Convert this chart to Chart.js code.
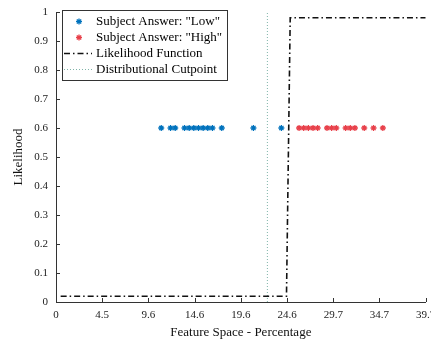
<!DOCTYPE html>
<html>
<head>
<meta charset="utf-8">
<script src="https://cdn.jsdelivr.net/npm/chart.js@4.4.1/dist/chart.umd.min.js"></script>
<style>
  html, body { margin: 0; padding: 0; background: #fff; }
  #wrap { width: 431px; height: 341px; }
</style>
</head>
<body>
<div id="wrap"><canvas id="chart" width="431" height="341"></canvas></div>
<script>
// values
const lowX = [11.3, 12.3, 12.8, 13.8, 14.3, 14.8, 15.3, 15.8, 16.3, 16.8, 17.8, 21.2, 24.2];
const lowY = [0.6, 0.6, 0.6, 0.6, 0.6, 0.6, 0.6, 0.6, 0.6, 0.6, 0.6, 0.6, 0.6];
const highX = [26.1, 26.6, 27.1, 27.6, 28.1, 29.1, 29.6, 30.1, 31.1, 31.6, 32.1, 33.1, 34.1, 35.1];
const highY = [0.6, 0.6, 0.6, 0.6, 0.6, 0.6, 0.6, 0.6, 0.6, 0.6, 0.6, 0.6, 0.6, 0.6];
const likeX = [0.5, 24.75, 25.15, 39.7];
const likeY = [0.02, 0.02, 0.98, 0.98];
const cutX = [22.7, 22.7];
const cutY = [0, 1];
const xTickLabels = ["0", "4.5", "9.6", "14.6", "19.6", "24.6", "29.7", "34.7", "39.7"];
const xMax = 39.7;

const serif = "'Liberation Serif', 'Times New Roman', serif";
const toPoints = (xs, ys) => xs.map((x, i) => ({ x: x, y: ys[i] }));

// ticks pointing into the plot, like the original figure
const innerTicks = {
    id: "innerTicks",
    afterDraw(chart) {
        const { ctx, chartArea, scales } = chart;
        ctx.save();
        ctx.strokeStyle = "#333";
        ctx.lineWidth = 1;
        ctx.beginPath();
        scales.x.ticks.forEach(t => {
            const px = Math.round(scales.x.getPixelForValue(t.value)) + 0.5;
            ctx.moveTo(px, chartArea.bottom);
            ctx.lineTo(px, chartArea.bottom - 4);
        });
        scales.y.ticks.forEach(t => {
            const py = Math.round(scales.y.getPixelForValue(t.value)) + 0.5;
            ctx.moveTo(chartArea.left, py);
            ctx.lineTo(chartArea.left + 4, py);
        });
        ctx.stroke();
        ctx.restore();
    }
};

// boxed legend in the upper left corner of the axes
const boxLegend = {
    id: "boxLegend",
    afterDraw(chart) {
        const { ctx, chartArea } = chart;
        const x0 = chartArea.left + 6, y0 = chartArea.top - 2;
        const w = 165, h = 70, rowH = 16;
        ctx.save();
        ctx.fillStyle = "#fff";
        ctx.fillRect(x0, y0, w, h);
        ctx.strokeStyle = "#333";
        ctx.lineWidth = 1;
        ctx.strokeRect(x0 + 0.5, y0 + 0.5, w, h);
        ctx.font = "13px " + serif;
        ctx.textBaseline = "middle";
        chart.data.datasets.forEach((ds, i) => {
            const cy = y0 + 11 + i * rowH + 0.5;
            if (ds.showLine) {
                ctx.strokeStyle = ds.borderColor;
                ctx.lineWidth = ds.borderWidth;
                ctx.setLineDash(ds.borderDash || []);
                ctx.beginPath();
                ctx.moveTo(x0 + 2, cy);
                ctx.lineTo(x0 + 30, cy);
                ctx.stroke();
                ctx.setLineDash([]);
            } else {
                ctx.strokeStyle = ds.borderColor;
                ctx.fillStyle = ds.borderColor;
                ctx.lineWidth = ds.pointBorderWidth;
                Chart.helpers.drawPoint(ctx, {
                    pointStyle: "star",
                    radius: ds.pointRadius,
                    borderWidth: ds.pointBorderWidth
                }, x0 + 17, cy);
            }
            ctx.fillStyle = "#000";
            ctx.fillText(ds.label, x0 + 34, cy);
        });
        ctx.restore();
    }
};

new Chart(document.getElementById("chart"), {
    type: "scatter",
    data: {
        datasets: [
            {
                label: 'Subject Answer: "Low"',
                data: toPoints(lowX, lowY),
                pointStyle: "star",
                pointRadius: 3,
                pointBorderWidth: 1.3,
                borderColor: "#0072bd",
                backgroundColor: "#0072bd",
                showLine: false
            },
            {
                label: 'Subject Answer: "High"',
                data: toPoints(highX, highY),
                pointStyle: "star",
                pointRadius: 3,
                pointBorderWidth: 1.3,
                borderColor: "#e8404a",
                backgroundColor: "#e8404a",
                showLine: false
            },
            {
                label: "Likelihood Function",
                data: toPoints(likeX, likeY),
                showLine: true,
                borderColor: "#111",
                borderWidth: 1.6,
                borderDash: [6, 3, 1.5, 3],
                pointRadius: 0
            },
            {
                label: "Distributional Cutpoint",
                data: toPoints(cutX, cutY),
                showLine: true,
                borderColor: "#7fb3a8",
                borderWidth: 1,
                borderDash: [1, 2],
                pointRadius: 0
            }
        ]
    },
    options: {
        responsive: false,
        animation: false,
        layout: { padding: { top: 12, right: 1, left: 0, bottom: 0 } },
        plugins: {
            legend: { display: false },
            tooltip: { enabled: false }
        },
        scales: {
            x: {
                type: "linear",
                min: 0,
                max: xMax,
                grid: { display: false, drawTicks: false },
                border: { display: true, color: "#333", width: 1 },
                afterBuildTicks: scale => {
                    scale.ticks = xTickLabels.map((_, i) => ({ value: i * xMax / (xTickLabels.length - 1) }));
                },
                ticks: {
                    autoSkip: false,
                    maxRotation: 0,
                    padding: 7,
                    color: "#222",
                    font: { family: serif, size: 11 },
                    callback: (v, i) => xTickLabels[i]
                },
                title: {
                    display: true,
                    text: "Feature Space - Percentage",
                    color: "#111",
                    font: { family: serif, size: 13 },
                    padding: { top: 0, bottom: 1 }
                },
                afterFit: scale => {
                    scale.height = 39;
                    scale.paddingLeft = 0;
                    scale.paddingRight = 0;
                }
            },
            y: {
                min: 0,
                max: 1,
                grid: { display: false, drawTicks: false },
                border: { display: true, color: "#333", width: 1 },
                ticks: {
                    stepSize: 0.1,
                    padding: 8,
                    color: "#222",
                    font: { family: serif, size: 11 },
                    callback: v => String(Math.round(v * 10) / 10)
                },
                title: {
                    display: true,
                    text: "Likelihood",
                    color: "#111",
                    font: { family: serif, size: 13 },
                    padding: { top: 11, bottom: 0 }
                },
                afterFit: scale => {
                    scale.width = 56;
                    scale.paddingTop = 0;
                    scale.paddingBottom = 0;
                }
            }
        }
    },
    plugins: [innerTicks, boxLegend]
});
</script>
</body>
</html>
